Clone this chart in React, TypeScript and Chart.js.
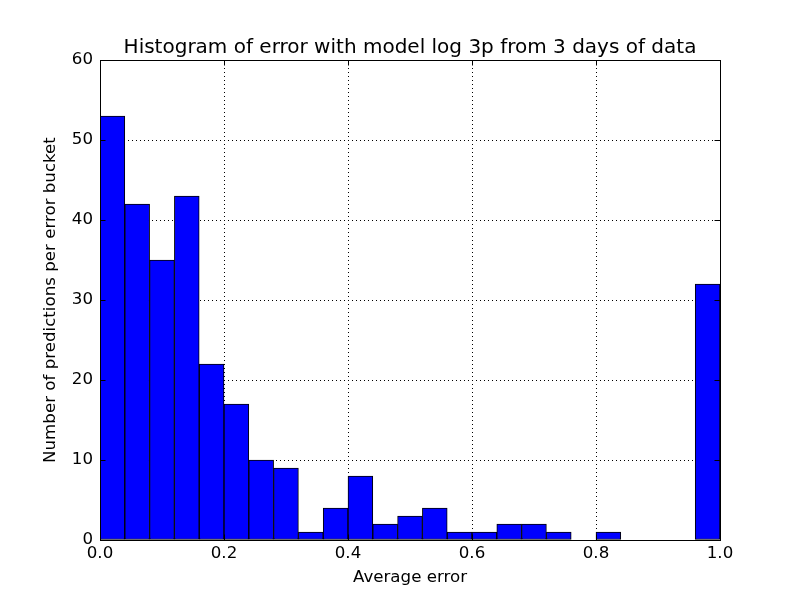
import { useEffect, useRef } from "react"
import Chart from "chart.js/auto"

const binCenters = [
  0.02, 0.06, 0.1, 0.14, 0.18, 0.22, 0.26, 0.3, 0.34, 0.38, 0.42, 0.46, 0.5,
  0.54, 0.58, 0.62, 0.66, 0.7, 0.74, 0.78, 0.82, 0.86, 0.9, 0.94, 0.98,
]
const counts = [
  53, 42, 35, 43, 22, 17, 10, 9, 1, 4, 8, 2, 3, 4, 1, 1, 2, 2, 1, 0, 1, 0, 0, 0, 32,
]
const xTicks = [0, 0.2, 0.4, 0.6, 0.8, 1.0]
const yTicks = [0, 10, 20, 30, 40, 50, 60]

const TITLE = "Histogram of error with model log 3p from 3 days of data"
const X_LABEL = "Average error"
const Y_LABEL = "Number of predictions per error bucket"
const FONT = "'DejaVu Sans', sans-serif"

// matplotlib-style frame, inward ticks on all sides and text labels
const decorations = {
  id: "decorations",
  afterDatasetsDraw(chart: Chart) {
    const { ctx, chartArea } = chart
    const { left, right, top, bottom } = chartArea
    const xs = chart.scales.x
    const ys = chart.scales.y
    const tickLen = 5.5

    ctx.save()
    ctx.strokeStyle = "#000"
    ctx.lineWidth = 1
    ctx.beginPath()
    xTicks.forEach((v) => {
      const px = Math.round(xs.getPixelForValue(v)) + 0.5
      ctx.moveTo(px, bottom)
      ctx.lineTo(px, bottom - tickLen)
      ctx.moveTo(px, top)
      ctx.lineTo(px, top + tickLen)
    })
    yTicks.forEach((v) => {
      const py = Math.round(ys.getPixelForValue(v)) + 0.5
      ctx.moveTo(left, py)
      ctx.lineTo(left + tickLen, py)
      ctx.moveTo(right, py)
      ctx.lineTo(right - tickLen, py)
    })
    ctx.stroke()

    ctx.strokeRect(
      Math.round(left) + 0.5,
      Math.round(top) + 0.5,
      Math.round(right - left),
      Math.round(bottom - top)
    )

    ctx.fillStyle = "#000"
    ctx.textAlign = "center"
    ctx.textBaseline = "alphabetic"
    ctx.font = `20px ${FONT}`
    ctx.fillText(TITLE, (left + right) / 2, 53)

    ctx.font = `16.67px ${FONT}`
    ctx.fillText(X_LABEL, (left + right) / 2, 582)

    ctx.translate(55, (top + bottom) / 2)
    ctx.rotate(-Math.PI / 2)
    ctx.fillText(Y_LABEL, 0, 0)
    ctx.restore()
  },
}

export default function App() {
  const canvasRef = useRef<HTMLCanvasElement>(null)
  const chartRef = useRef<Chart | null>(null)

  useEffect(() => {
    if (!canvasRef.current) return
    if (chartRef.current) chartRef.current.destroy()

    chartRef.current = new Chart(canvasRef.current, {
      type: "bar",
      data: {
        datasets: [
          {
            data: binCenters.map((x, i) => ({ x, y: counts[i] })),
            backgroundColor: "#0000ff",
            borderColor: "#000000",
            borderWidth: 1,
            borderSkipped: false,
            barPercentage: 1,
            categoryPercentage: 1,
          },
        ],
      },
      options: {
        animation: false,
        responsive: true,
        maintainAspectRatio: false,
        layout: { padding: { top: 60, right: 80, left: 0, bottom: 0 } },
        plugins: {
          legend: { display: false },
          tooltip: { enabled: false },
        },
        scales: {
          x: {
            type: "linear",
            min: 0,
            max: 1,
            offset: false,
            afterFit: (scale) => {
              scale.height = 60
            },
            afterBuildTicks: (scale) => {
              scale.ticks = xTicks.map((value) => ({ value }))
            },
            ticks: {
              color: "#000",
              padding: 4,
              maxRotation: 0,
              font: { family: FONT, size: 16.67 },
              callback: (v) => Number(v).toFixed(1),
            },
            grid: { color: "#000", lineWidth: 1, drawTicks: false, offset: false },
            border: { display: false, dash: [1, 3] },
          },
          y: {
            min: 0,
            max: 60,
            afterFit: (scale) => {
              scale.width = 100
            },
            afterBuildTicks: (scale) => {
              scale.ticks = yTicks.map((value) => ({ value }))
            },
            ticks: {
              color: "#000",
              padding: 7,
              font: { family: FONT, size: 16.67 },
            },
            grid: { color: "#000", lineWidth: 1, drawTicks: false },
            border: { display: false, dash: [1, 3] },
          },
        },
      },
      plugins: [decorations],
    })

    return () => {
      if (chartRef.current) {
        chartRef.current.destroy()
        chartRef.current = null
      }
    }
  }, [])

  return (
    <div style={{ position: "absolute", left: 0, top: 0, width: 800, height: 600, background: "#fff" }}>
      <canvas ref={canvasRef} />
    </div>
  )
}
